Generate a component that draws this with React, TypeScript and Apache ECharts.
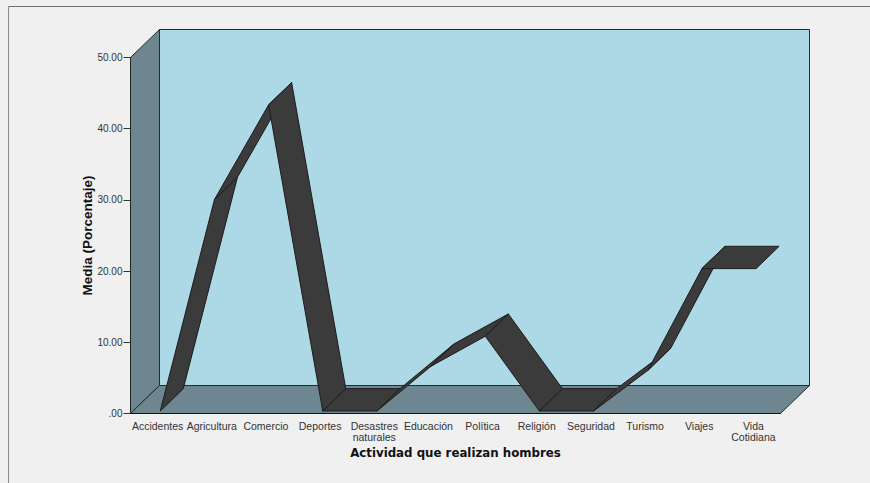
import React, { useEffect, useRef } from "react";
import * as echarts from "echarts";

const categories = ["Accidentes", "Agricultura", "Comercio", "Deportes", "Desastres\nnaturales", "Educación", "Política", "Religión", "Seguridad", "Turismo", "Viajes", "Vida\nCotidiana"];
const means = [0, 29.7, 43, 0, 0, 6.3, 10.5, 0, 0, 5.7, 20, 20];
const yTicks = { min: 0, max: 50, interval: 10 };
const xTitle = "Actividad que realizan hombres";
const yTitle = "Media (Porcentaje)";

const wallDepth = [29, -28];
const ribbonFront = [2.7, -2.5];
const ribbonBack = [25.7, -24.8];
const wallFill = "#6e868f";
const backFill = "#add8e6";
const ribbonFill = "#3b3b3b";
const edge = "#222c30";

function wallsItem(params: any) {
  const { x, y, width: w, height: h } = params.coordSys;
  const [dx, dy] = wallDepth;
  const b = y + h;
  const r = x + w;
  const poly = (points: number[][], fill: string) => ({
    type: "polygon",
    shape: { points },
    style: { fill, stroke: edge, lineWidth: 1 },
  });
  return {
    type: "group",
    children: [
      poly([[x + dx, y + dy], [r + dx, y + dy], [r + dx, b + dy], [x + dx, b + dy]], backFill),
      poly([[x, y], [x + dx, y + dy], [x + dx, b + dy], [x, b]], wallFill),
      poly([[x, b], [x + dx, b + dy], [r + dx, b + dy], [r, b]], wallFill),
    ],
  };
}

function ribbonItem(params: any, api: any) {
  const i = params.dataIndex;
  if (i >= means.length - 1) return null;
  const a = api.coord([i, means[i]]);
  const c = api.coord([i + 1, means[i + 1]]);
  const pt = (p: number[], o: number[]) => [p[0] + o[0], p[1] + o[1]];
  return {
    type: "polygon",
    shape: { points: [pt(a, ribbonFront), pt(c, ribbonFront), pt(c, ribbonBack), pt(a, ribbonBack)] },
    style: { fill: ribbonFill, stroke: "#1c1c1c", lineWidth: 1, lineJoin: "round" },
  };
}

export default function App() {
  const ref = useRef<HTMLDivElement>(null);
  useEffect(() => {
    document.body.style.margin = "0";
    document.body.style.background = "#f0f0f0";
    const chart = echarts.init(ref.current!, undefined, { renderer: "svg" });
    chart.setOption({
      animation: false,
      backgroundColor: "#f0f0f0",
      graphic: [
        { type: "line", silent: true, shape: { x1: 8.5, y1: 6.5, x2: 870, y2: 6.5 }, style: { stroke: "#6f6f6f", lineWidth: 1 } },
        { type: "line", silent: true, shape: { x1: 8.5, y1: 6.5, x2: 8.5, y2: 483 }, style: { stroke: "#8a8a8a", lineWidth: 1 } },
      ],
      grid: { left: 130.5, right: 89.5, top: 57.5, bottom: 69.5, containLabel: false },
      xAxis: {
        type: "category",
        data: categories,
        z: 3,
        name: xTitle,
        nameLocation: "center",
        nameGap: 33,
        nameMoveOverlap: false,
        nameTextStyle: { fontFamily: "DejaVu Sans", fontWeight: "bold", fontSize: 11.8, color: "#111" },
        axisLine: { lineStyle: { color: "#111", width: 1 } },
        axisTick: { alignWithLabel: true, length: 6, lineStyle: { color: "#555" } },
        axisLabel: { interval: 0, margin: 7, fontFamily: "Liberation Sans", fontSize: 10.5, color: "#333", lineHeight: 11 },
        splitLine: { show: false },
      },
      yAxis: {
        type: "value",
        ...yTicks,
        z: 3,
        name: yTitle,
        nameLocation: "center",
        nameGap: 36,
        nameMoveOverlap: false,
        nameTextStyle: { fontFamily: "Liberation Sans", fontWeight: "bold", fontSize: 13.5, color: "#111" },
        axisLine: { show: true, lineStyle: { color: "#222", width: 1 } },
        axisTick: { show: true, length: 7, lineStyle: { color: "#333" } },
        axisLabel: {
          margin: 8,
          fontFamily: "Liberation Sans",
          fontSize: 10,
          color: "#333",
          formatter: (v: number) => (v === 0 ? ".00" : v.toFixed(2)),
        },
        splitLine: { show: false },
      },
      series: [
        { type: "custom", silent: true, z: 1, clip: false, renderItem: wallsItem, data: [[0, 0]], encode: { x: 0, y: 1 } },
        {
          type: "custom",
          silent: true,
          z: 2,
          clip: false,
          renderItem: ribbonItem,
          data: means.map((v, i) => [i, v]),
          encode: { x: 0, y: 1 },
        },
      ],
    });
    return () => chart.dispose();
  }, []);
  return <div ref={ref} style={{ width: 870, height: 483 }} />;
}
